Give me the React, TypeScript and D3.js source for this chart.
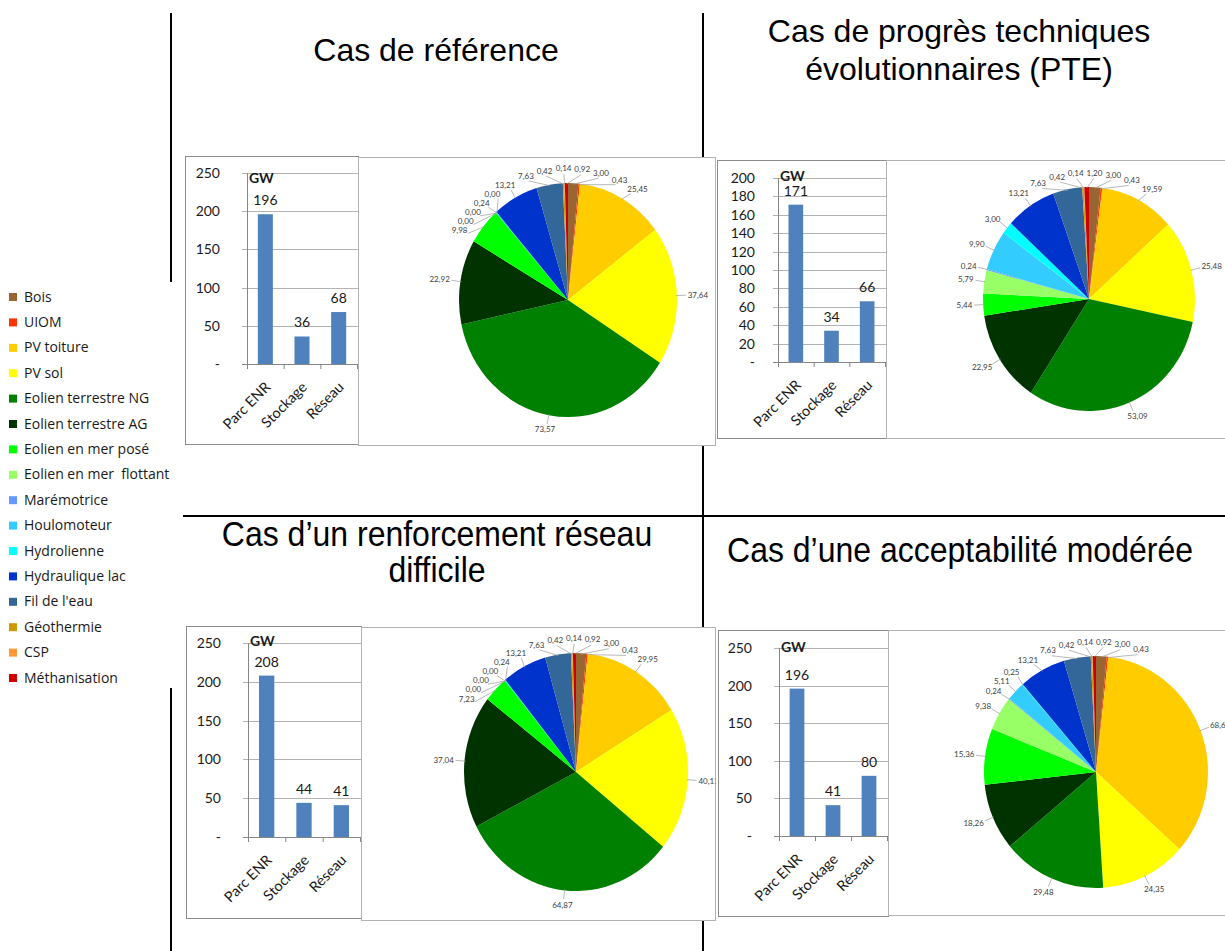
import React from "react";
import * as d3 from "d3";

// ---------- DATA ----------
const technologies = [
  "Bois",
  "UIOM",
  "PV toiture",
  "PV sol",
  "Eolien terrestre NG",
  "Eolien terrestre AG",
  "Eolien en mer posé",
  "Eolien en mer  flottant",
  "Marémotrice",
  "Houlomoteur",
  "Hydrolienne",
  "Hydraulique lac",
  "Fil de l'eau",
  "Géothermie",
  "CSP",
  "Méthanisation",
];
const techColors = [
  "#996633", "#FF3300", "#FFCC00", "#FFFF00", "#008000", "#003300", "#00FF00", "#99FF66",
  "#6699FF", "#33CCFF", "#00FFFF", "#0033CC", "#336699", "#CC9900", "#FF9933", "#CC0000",
];

const mixReference = [3.0, 0.43, 25.45, 37.64, 73.57, 22.92, 9.98, 0.0, 0.0, 0.24, 0.0, 13.21, 7.63, 0.42, 0.14, 0.92];
const mixPTE = [3.0, 0.43, 19.59, 25.48, 53.09, 22.95, 5.44, 5.79, 0.24, 9.9, 3.0, 13.21, 7.63, 0.42, 0.14, 1.2];
const mixRenforcement = [3.0, 0.43, 29.95, 40.13, 64.87, 37.04, 7.23, 0.0, 0.0, 0.0, 0.24, 13.21, 7.63, 0.42, 0.14, 0.92];
const mixModeree = [3.0, 0.43, 68.6, 24.35, 29.48, 18.26, 15.36, 9.38, 0.24, 5.11, 0.25, 13.21, 7.63, 0.42, 0.14, 0.92];

const barCategories = ["Parc ENR", "Stockage", "Réseau"];
const barsReference = [196, 36, 68];
const barsPTE = [171, 34, 66];
const barsRenforcement = [208, 44, 41];
const barsModeree = [196, 41, 80];
const ticks250 = [0, 50, 100, 150, 200, 250];
const ticks200 = [0, 20, 40, 60, 80, 100, 120, 140, 160, 180, 200];

const titleReference = ["Cas de référence"];
const titlePTE = ["Cas de progrès techniques", "évolutionnaires (PTE)"];
const titleRenforcement = ["Cas d\u2019un renforcement réseau", "difficile"];
const titleModeree = ["Cas d\u2019une acceptabilité modérée"];

// ---------- HELPERS ----------
const fmt = (v: number) => v.toFixed(2).replace(".", ",");
const UI_FONT = "Lato, 'Open Sans', sans-serif";
const LEGEND_FONT = "'Open Sans', Lato, sans-serif";
const TITLE_FONT = "'Liberation Sans', Arial, sans-serif";

function textWidth(t: string, fs: number) {
  let w = 0;
  for (const ch of t) w += ch === "," ? 0.25 : 0.56;
  return w * fs;
}

type Box = { x: number; y: number; w: number; h: number };

function BarPanel(props: {
  id: string;
  box: Box;
  x0: number;
  x1: number;
  yZero: number;
  yTop: number;
  max: number;
  ticks: number[];
  values: number[];
  labelRight: number;
  gwY: number;
}) {
  const { box, x0, x1, yZero, yTop, max, ticks, values, labelRight, gwY } = props;
  const y = d3.scaleLinear().domain([0, max]).range([yZero, yTop]);
  const x = d3
    .scaleBand<string>()
    .domain(barCategories)
    .range([x0, x1])
    .paddingInner(0.59)
    .paddingOuter(0.295);
  const step = x.step();
  return (
    <g>
      <rect x={box.x} y={box.y} width={box.w} height={box.h} fill="#fff" stroke="#8c8c8c" strokeWidth={1} />
      {ticks.map((t) => (
        <g key={t}>
          <line
            x1={x0 - 5}
            x2={t === 0 ? x1 : box.x + box.w}
            y1={Math.round(y(t)) + 0.5}
            y2={Math.round(y(t)) + 0.5}
            stroke={t === 0 ? "#868686" : "#b3b3b3"}
            strokeWidth={1}
          />
          <text
            x={labelRight}
            y={y(t) + 5}
            textAnchor="end"
            fontFamily={UI_FONT}
            fontSize={14}
            fill="#1a1a1a"
          >
            {t === 0 ? "-" : String(t)}
          </text>
        </g>
      ))}
      <line x1={x0 + 0.5} x2={x0 + 0.5} y1={yTop} y2={yZero} stroke="#868686" strokeWidth={1} />
      {barCategories.map((c, i) => (
        <line
          key={"tk" + c}
          x1={x0 + step * (i + 1) + 0.5}
          x2={x0 + step * (i + 1) + 0.5}
          y1={yZero}
          y2={yZero + 5}
          stroke="#868686"
        />
      ))}
      <line x1={x0 + 0.5} x2={x0 + 0.5} y1={yZero} y2={yZero + 5} stroke="#868686" />
      {barCategories.map((c, i) => (
        <g key={c}>
          <rect
            x={x(c)!}
            y={y(values[i])}
            width={x.bandwidth()}
            height={yZero - y(values[i])}
            fill="#4F81BD"
          />
          <text
            x={x(c)! + x.bandwidth() / 2}
            y={Math.max(y(values[i]) - 9, gwY + 15)}
            textAnchor="middle"
            fontFamily={UI_FONT}
            fontSize={14}
            fill="#1a1a1a"
          >
            {values[i]}
          </text>
          <text
            transform={`translate(${x(c)! + x.bandwidth() / 2 + 6},${yZero + 24}) rotate(-45)`}
            textAnchor="end"
            fontFamily={UI_FONT}
            fontSize={14.5}
            fill="#1a1a1a"
          >
            {c}
          </text>
        </g>
      ))}
      <text x={x0 + 2} y={gwY} fontFamily={UI_FONT} fontWeight="bold" fontSize={14} fill="#1a1a1a">
        GW
      </text>
    </g>
  );
}

function layoutLabels(values: number[], cx: number, cy: number, rx: number, ry: number, fs: number) {
  const arcs = d3.pie<number>().sort(null).value((d) => d)(values);
  const PAD = 9;
  const labs = arcs.map((a, i) => {
    let th = (a.startAngle + a.endAngle) / 2;
    if (th > Math.PI) th -= 2 * Math.PI;
    const text = fmt(values[i]);
    return { i, th, phi: th, text, w: textWidth(text, fs) + 2, h: fs + 1 };
  });
  const geom = (l: { phi: number; w: number; h: number }) => {
    const s = Math.sin(l.phi),
      c = Math.cos(l.phi);
    const ax = cx + (rx + PAD) * s,
      ay = cy - (ry + PAD) * c;
    return { ax, ay, bx: ax + s * (l.w / 2 + 1), by: ay - c * (l.h / 2 + 1) };
  };
  for (let it = 0; it < 1500; it++) {
    const sorted = [...labs].sort((a, b) => a.phi - b.phi || a.i - b.i);
    let moved = false;
    for (let p = 0; p < sorted.length; p++)
      for (let q = p + 1; q < sorted.length; q++) {
        const A = geom(sorted[p]),
          B = geom(sorted[q]);
        const ox = (sorted[p].w + sorted[q].w) / 2 + 1 - Math.abs(A.bx - B.bx);
        const oy = (sorted[p].h + sorted[q].h) / 2 - Math.abs(A.by - B.by);
        if (ox > 0 && oy > 0) {
          sorted[p].phi -= 0.003;
          sorted[q].phi += 0.003;
          moved = true;
        }
      }
    if (!moved) break;
  }
  return labs.map((l) => {
    const g = geom(l);
    return {
      key: l.i,
      text: l.text,
      tx: g.bx,
      ty: g.by + fs * 0.36,
      lx1: cx + (rx - 1) * Math.sin(l.th),
      ly1: cy - (ry - 1) * Math.cos(l.th),
      lx2: g.ax,
      ly2: g.ay,
    };
  });
}

function PiePanel(props: { id: string; box: Box; cx: number; cy: number; rx: number; ry: number; values: number[] }) {
  const { id, box, cx, cy, rx, ry, values } = props;
  const arcs = d3.pie<number>().sort(null).value((d) => d)(values);
  const arcGen = d3.arc<d3.PieArcDatum<number>>().innerRadius(0).outerRadius(rx);
  const fs = 8;
  const labels = layoutLabels(values, cx, cy, rx, ry, fs);
  return (
    <g>
      <defs>
        <clipPath id={"clip-" + id}>
          <rect x={box.x} y={box.y} width={box.w} height={box.h} />
        </clipPath>
      </defs>
      <rect x={box.x} y={box.y} width={box.w} height={box.h} fill="#fff" stroke="#b3b3b3" strokeWidth={1} />
      <g clipPath={`url(#clip-${id})`}>
        <g transform={`translate(${cx},${cy}) scale(1,${ry / rx})`}>
          {arcs.map((a, i) => (
            <path key={i} d={arcGen(a) || ""} fill={techColors[i]} stroke="none" />
          ))}
        </g>
        {labels.map((l) => (
          <g key={l.key}>
            <line x1={l.lx1} y1={l.ly1} x2={l.lx2} y2={l.ly2} stroke="#a6a6a6" strokeWidth={0.8} />
            <text
              x={l.tx}
              y={l.ty}
              textAnchor="middle"
              fontFamily={UI_FONT}
              fontSize={fs}
              fill="#404040"
            >
              {l.text}
            </text>
          </g>
        ))}
      </g>
    </g>
  );
}

function Title(props: { lines: string[]; cx: number; y0: number; lh: number; sy?: number }) {
  const { lines, cx, y0, lh, sy = 1 } = props;
  return (
    <g transform={`translate(${cx},${y0}) scale(1,${sy})`}>
      {lines.map((t, i) => (
        <text key={i} x={0} y={i * lh} textAnchor="middle" fontFamily={TITLE_FONT} fontSize={32} fill="#000">
          {t}
        </text>
      ))}
    </g>
  );
}

function Legend() {
  const y = d3
    .scaleLinear()
    .domain([0, technologies.length - 1])
    .range([297, 678]);
  return (
    <g>
      {technologies.map((t, i) => (
        <g key={t}>
          <rect x={9} y={y(i) - 4} width={8} height={8} fill={techColors[i]} />
          <text x={24} y={y(i) + 4.5} fontFamily={LEGEND_FONT} fontSize={14} fill="#1a1a1a" style={{ whiteSpace: "pre" }}>
            {t}
          </text>
        </g>
      ))}
    </g>
  );
}

export default function App() {
  return (
    <div style={{ position: "absolute", left: 0, top: 0 }}>
      <svg width={1225} height={951} style={{ display: "block" }}>
        <rect x={0} y={0} width={1225} height={951} fill="#fff" />
        {/* frame lines */}
        <line x1={171} x2={171} y1={13} y2={282} stroke="#000" strokeWidth={2} />
        <line x1={171} x2={171} y1={688} y2={951} stroke="#000" strokeWidth={2} />
        <line x1={703} x2={703} y1={13} y2={951} stroke="#000" strokeWidth={2} />
        <line x1={183} x2={1225} y1={516} y2={516} stroke="#000" strokeWidth={2} />

        <Title lines={titleReference} cx={436} y0={61} lh={37} />
        <Title lines={titlePTE} cx={959} y0={42} lh={38} />
        <Title lines={titleRenforcement} cx={437} y0={546} lh={33} sy={1.08} />
        <Title lines={titleModeree} cx={960} y0={562} lh={33} sy={1.08} />

        <BarPanel
          id="b1"
          box={{ x: 185.5, y: 156.5, w: 173, h: 288 }}
          x0={247}
          x1={357}
          yZero={364}
          yTop={173}
          max={250}
          ticks={ticks250}
          values={barsReference}
          labelRight={220}
          gwY={183}
        />
        <PiePanel id="p1" box={{ x: 358.5, y: 157.5, w: 357, h: 288 }} cx={568} cy={300} rx={109} ry={117} values={mixReference} />

        <BarPanel
          id="b2"
          box={{ x: 717.5, y: 160.5, w: 169, h: 278 }}
          x0={778}
          x1={885}
          yZero={362}
          yTop={178}
          max={200}
          ticks={ticks200}
          values={barsPTE}
          labelRight={755}
          gwY={181}
        />
        <PiePanel id="p2" box={{ x: 886.5, y: 160.5, w: 345, h: 278 }} cx={1089} cy={299} rx={106} ry={112} values={mixPTE} />

        <BarPanel
          id="b3"
          box={{ x: 186.5, y: 626.5, w: 175, h: 292 }}
          x0={248}
          x1={360}
          yZero={837}
          yTop={643}
          max={250}
          ticks={ticks250}
          values={barsRenforcement}
          labelRight={221}
          gwY={646}
        />
        <PiePanel id="p3" box={{ x: 361.5, y: 627.5, w: 354, h: 293 }} cx={576} cy={772} rx={112} ry={119} values={mixRenforcement} />

        <BarPanel
          id="b4"
          box={{ x: 718.5, y: 630.5, w: 170, h: 286 }}
          x0={779}
          x1={887}
          yZero={836}
          yTop={648}
          max={250}
          ticks={ticks250}
          values={barsModeree}
          labelRight={752}
          gwY={652}
        />
        <PiePanel id="p4" box={{ x: 888.5, y: 630.5, w: 345, h: 285 }} cx={1096} cy={772} rx={112} ry={116} values={mixModeree} />

        <Legend />
      </svg>
    </div>
  );
}
